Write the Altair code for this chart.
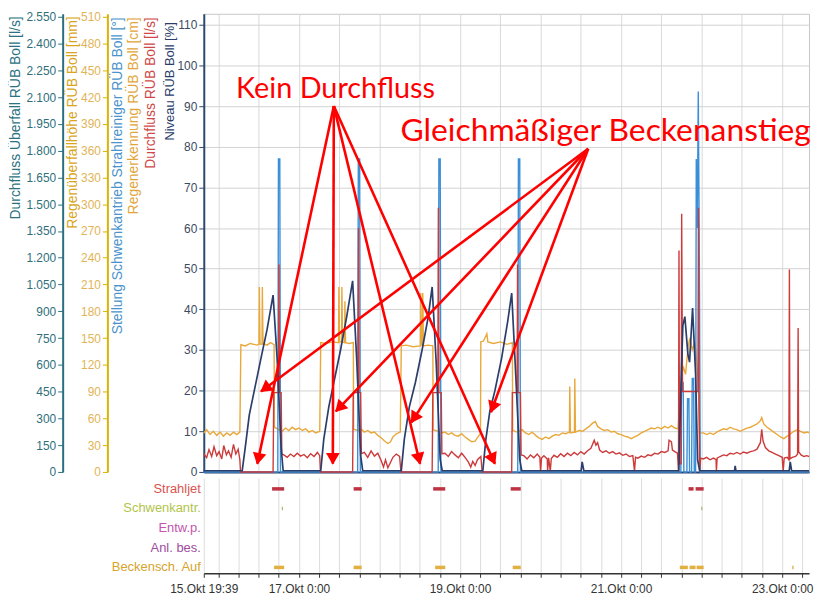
import math
import altair as alt
import pandas as pd

BASE = pd.Timestamp("2023-10-17 00:00")
START_H = -28.35   # 15.Okt 19:39
END_H = 152.0      # 23.Okt 08:00
VMAX = 112.7

# ---- series: (hours relative to 17.Okt 0:00, value in %) ----
niveau = [(-28.35,0.3),(-16.9,0.3),(-16.0,6),(-14.8,14),(-13.3,20),(-11.3,28),(-9.5,35),(-7.7,43.5),(-6.5,28),(-5.3,6),(-4.7,0.3),
          (6.5,0.3),(7.4,8),(8.9,16),(10.4,22),(12.4,30),(14.2,38),(16.0,47),(17.2,28),(18.4,4),(19.0,0.3),
          (30.5,0.3),(31.4,8),(32.9,16),(34.7,22),(36.7,30),(38.5,38),(39.7,45.5),(40.9,27),(42.1,3),(42.7,0.3),
          (54.8,0.3),(55.7,8),(56.9,15),(58.4,20),(60.4,28),(62.2,37),(63.4,44),(64.6,24),(65.8,3),(66.4,0.3),
          (84.1,0.3),(84.4,2.5),(84.9,0.3),
          (113.2,0.3),(113.8,20),(114.4,36),(115.0,38.2),(115.9,29),(116.4,27),(117.3,40.3),(118.2,24),(118.8,3),(119.4,0.3),
          (129.8,0.3),(130.0,1.5),(130.2,0.3),
          (146.1,0.3),(146.4,2.5),(146.8,0.3),(152.0,0.3)]

stellung = [(-28.35,0),(-6.3,0),(-6.1,77),(-5.7,77),(-5.5,0),(17.5,0),(17.7,77),(18.1,77),(18.3,0),
            (41.5,0),(41.7,77),(42.1,77),(42.3,0),(65.2,0),(65.4,77),(65.8,77),(66.0,0),
            (113.8,0),(114.0,22),(114.5,22),(114.7,0),(115.6,0),(115.8,18),(116.2,18),(116.4,0),
            (117.0,0),(117.2,23),(117.6,23),(117.8,0),(118.2,0),(118.4,77),(118.7,60),(119.0,93.6),
            (119.3,55),(119.6,0),(152.0,0)]

durchfluss = [(-28.35,4.5),(-27.5,3.5),(-26.8,5.5),(-26.0,3.8),(-25.3,6.2),(-24.5,4.0),(-23.8,5.0),(-23.0,3.2),
              (-22.4,6.5),(-21.6,4.2),(-21.0,5.2),(-20.2,3.6),(-19.5,6.8),(-18.8,4.4),(-18.1,5.6),(-17.6,3.0),(-17.4,0),
              (-7.7,0),(-7.5,19.5),(-6.1,19.5),(-5.95,51),(-5.8,19.5),(-5.3,19.5),(-5.1,4.4),
              (-4.5,4.2),(-3.5,3.6),(-2.5,4.4),(-1.5,3.8),(-0.5,4.6),(0.5,3.9),(1.5,4.3),(2.5,3.5),(3.5,4.5),
              (4.5,3.8),(5.5,4.8),(6.2,4.0),(6.4,0),
              (16.0,0),(16.2,19.5),(17.6,19.5),(17.75,60),(17.9,19.5),(18.4,19.5),(18.6,4.5),
              (19.5,4.8),(20.5,3.6),(21.5,5.2),(22.5,3.9),(23.5,4.6),(24.5,2.8),(25.2,1.2),(25.8,3.0),
              (26.5,1.0),(27.2,2.2),(28.0,3.6),(29.0,4.4),(30.0,3.8),(30.4,0),
              (39.7,0),(39.9,19.5),(41.4,19.5),(41.55,65),(41.7,19.5),(42.4,19.5),(42.6,4.5),
              (43.5,4.6),(44.5,3.8),(45.5,5.0),(46.5,4.2),(47.5,3.5),(48.5,4.6),(49.5,3.6),(50.5,2.4),
              (51.2,1.2),(51.8,2.6),(52.5,1.6),(53.2,3.0),(54.2,3.8),(54.6,0),
              (63.4,0),(63.6,19.5),(65.0,19.5),(65.15,51),(65.3,19.5),(66.0,19.5),(66.2,4.2),
              (67,4.0),(68,3.2),(69,4.2),(70,3.5),(71,4.4),(71.8,3.6),(72,0.2),(72.3,3.4),(73,4.0),(74,3.2),
              (74.1,0.2),(74.4,3.5),(74.9,0.2),(75.2,3.3),(76,4.1),(77,3.6),(78,4.5),(79,3.8),(80,4.6),(81,4.0),
              (82,4.8),(83,4.2),(84,5.0),(85,4.4),(86,5.2),(87,5.8),(88,7.8),(88.5,6.6),(89,7.2),(89.6,5.4),
              (90.5,4.8),(91.5,5.2),(92.5,4.6),(93.5,5.0),(94.5,4.4),(95.5,4.7),(96.5,4.1),(97.5,4.4),(98.5,3.8),
              (99.5,4.0),(100,0.2),(100.3,3.6),(101,3.4),(102,3.9),(103,3.6),(104,4.2),(105,4.0),(106,4.6),
              (107,4.4),(108,5.0),(109,4.8),(110,5.2),(110.3,7.8),(111,7.4),(111.3,5.4),(112,5.0),(112.8,4.6),
              (113.1,0.2),(113.25,54.5),(113.4,2),(113.9,2),(114.05,63.5),(114.3,19.8),(118.9,19.8),(119.05,65),
              (119.2,19.8),(119.4,0.2),(119.7,3.4),
              (120.5,3.2),(121.5,3.6),(122.5,3.0),(123.5,3.4),(124.3,3.0),(124.4,0.2),(124.6,3.4),(125.5,3.8),
              (126.5,4.2),(127.5,4.0),(128.5,4.6),(129.5,4.4),(130.5,4.8),(131.5,4.4),(132.5,4.9),(133.5,4.6),
              (134.5,5.0),(135.5,5.2),(136.5,5.6),(137.5,7.2),(137.9,10.5),(138.3,7.6),(139,6.0),(140,5.2),
              (141,4.8),(142,4.4),(143,4.0),(144,3.6),(144.3,0.2),(144.6,3.4),(145.5,3.6),(146.0,3.0),
              (146.15,49.8),(146.3,3.2),(147,3.6),(148,3.8),(148.6,4.4),(148.75,35.4),(148.9,5.0),(149.6,4.2),
              (150.5,3.8),(151.3,4.0),(152.0,3.8)]

regen = [(-28.35,9.6),(-27.5,10.4),(-26.5,9.2),(-25.5,10.0),(-24.5,9.0),(-23.5,9.8),(-22.5,8.8),(-21.5,9.6),
         (-20.5,9.0),(-19.5,9.8),(-18.5,9.2),(-17.6,9.8),(-17.3,31.3),
         (-16.0,31.0),(-14.5,31.6),(-12.5,31.2),(-11.9,31.4),(-11.8,45.5),(-11.6,31.5),(-11.0,31.4),(-10.9,45.5),
         (-10.7,31.6),(-9.5,31.2),(-8.5,31.8),(-7.4,31.3),(-7.3,11),
         (-6,10.4),(-5,10.0),(-4,10.8),(-3,10.2),(-2,11.0),(-1,10.4),(0,10.8),(1,10.2),(2,10.6),(3,9.8),
         (4,10.2),(5,9.6),(6.2,10.0),(6.5,31.8),
         (8,31.6),(10,32.0),(11.8,31.8),(11.9,45.5),(12.1,32),(12.7,32),(12.8,45.5),(13.0,32),(13.6,31.8),
         (13.7,42),(13.9,31.8),(15,31.6),(16.2,31.8),(16.3,10.5),
         (17.5,10.2),(18.5,10.6),(19.5,9.8),(20.5,10.2),(21.5,9.6),(22.5,9.8),(23.5,9.0),(24.5,8.4),(25.5,7.6),
         (26.5,7.0),(27.3,7.4),(28,8.6),(29,9.4),(30.2,9.8),(30.5,31),
         (32,31.2),(34,30.8),(36.2,31.0),(36.3,44),(36.5,31.2),(36.8,31.2),(36.9,44),(37.1,31),(38.5,31.2),
         (39.9,31),(40.0,10.4),
         (41.5,10.0),(42.5,9.6),(43.5,9.8),(44.5,9.2),(45.5,9.6),(46.5,9.0),(47.5,8.8),(48.5,9.4),(49.5,8.6),
         (50.5,8.0),(51.5,7.4),(52.5,7.6),(53.5,8.8),(54.1,9.4),(54.2,32),
         (55,32.2),(56,34),(56.3,32),(58,31.6),(60,32),(62,31.4),(63.6,31.8),(63.7,10.2),
         (65,9.8),(66.5,10.4),(67.5,9.6),(68.5,9.2),(69.5,9.8),(70.5,9.0),(71.5,8.4),(72.5,8.0),(73.5,8.6),
         (74.5,8.2),(75.5,8.8),(76.5,9.2),(77.5,9.0),(78.5,9.6),(79.5,9.4),(80.6,9.8),(80.7,21),(80.9,9.6),
         (82.1,9.8),(82.2,23),(82.4,9.8),(83.5,10.2),(84.5,10.0),(85.5,10.6),(86.5,11.2),(87.5,12.0),(88.3,12.4),
         (89,11.2),(90,10.6),(91,10.2),(92,10.4),(93,9.8),(94,10.0),(95,9.4),(96,9.2),(97,8.8),(98,8.6),
         (99,8.2),(100,8.6),(101,9.0),(102,9.6),(103,10.0),(104,10.4),(105,10.8),(106,10.6),(107,11.0),
         (108,10.6),(109,11.2),(110,10.8),(111,11.4),(112,10.8),(113,10.6),
         (113.6,20),(114.5,26),(115.2,24),(116,31),(116.5,33),(117.2,30),(118.0,32),(118.6,26),(119,22),(119.4,9.6),
         (120.5,9.6),(121.5,9.2),(122.5,9.6),(123.5,9.2),(124.5,9.8),(125.5,10.2),(126.5,10.6),(127.5,10.4),
         (128.5,11.0),(129.5,10.6),(130.5,10.4),(131.5,10.0),(132.5,10.4),(133.5,10.8),(134.5,11.0),(135.5,11.4),
         (136.5,11.8),(137.5,12.6),(137.9,13.4),(138.5,11.8),(139.5,11.0),(140.5,10.4),(141.5,9.8),(142.5,9.2),
         (143.5,8.6),(144.5,8.2),(145.5,8.8),(146.5,9.4),(147.5,10.0),(148.5,10.4),(149.5,10.0),(150.5,9.6),
         (151.5,9.8),(152.0,9.6)]

# ---- binary events: (category, start hour, end hour) ----
event_cats = ["Strahljet", "Schwenkantr.", "Entw.p.", "Anl. bes.", "Beckensch. Auf"]
event_label_colors = ["#d9534f", "#b2c44a", "#c455ac", "#a04c9c", "#d6a42b"]
event_mark_colors = ["#bf3242", "#9aa85a", "#c455ac", "#a04c9c", "#e2b040"]
events = [("Strahljet",-8.0,-4.4),("Strahljet",16.3,18.7),("Strahljet",40.0,43.6),("Strahljet",63.1,66.1),
          ("Strahljet",116.1,117.6),("Strahljet",118.2,120.6),
          ("Schwenkantr.",-5.1,-4.8),("Schwenkantr.",119.9,120.2),
          ("Beckensch. Auf",-7.4,-4.4),("Beckensch. Auf",16.3,18.7),("Beckensch. Auf",40.6,43.6),
          ("Beckensch. Auf",63.7,66.1),("Beckensch. Auf",113.5,115.9),("Beckensch. Auf",116.4,118.2),
          ("Beckensch. Auf",118.5,120.6),("Beckensch. Auf",147.0,147.4)]

# ---- annotations: text, hour, %, font size ----
ann_texts = [("Kein Durchfluss", 10.9, 94.1, 29), ("Gleichmäßiger Beckenanstieg", 91.4, 83.9, 32)]
kein_src = (10.4, 90.0)
kein_tips = [(-12.4, 2.0), (10.1, 2.0), (36.1, 2.0), (58.4, 2.0)]
gleich_src = (86.2, 79.5)
gleich_tips = [(-11.3, 19.8), (11.0, 14.9), (33.5, 12.2), (57.2, 14.7)]

# ---------------------------------------------------------------
W, H_MAIN, H_EV = 609, 461, 96
PXH = W / (END_H - START_H)
PXV = H_MAIN / VMAX


def t(h):
    return BASE + pd.to_timedelta(h, unit="h")


def series_df(pairs):
    return pd.DataFrame({"t": [t(h) for h, _ in pairs], "v": [v for _, v in pairs]})


def dt(d, h, m=0):
    return alt.DateTime(year=2023, month=10, date=d, hours=h, minutes=m)


x_domain = [dt(15, 19, 39), dt(23, 8)]
grid_vals = [dt(d, h) for d in range(16, 24) for h in (0, 6, 12, 18) if (d, h) <= (23, 6)]

FONT = "Liberation Sans"
NAVY = "#2b3e6b"

x_main = alt.X("t:T", title=None, scale=alt.Scale(domain=x_domain),
               axis=alt.Axis(values=grid_vals, labels=False, ticks=False, grid=True, title=None,
                             minExtent=0, tickSize=0, labelPadding=0,
                             gridColor="#d9d9d9", domainColor=NAVY, domainWidth=2))


def yscale():
    return alt.Scale(domain=[0, VMAX], nice=False, zero=False)


def title_axis(title, color, tx):
    return alt.Axis(orient="left", title=title, titleColor=color, titleX=tx, titleY=3,
                    titleAngle=270, titleAlign="right", titleBaseline="middle",
                    titleFontSize=14, labels=False, ticks=False, domain=False, grid=False)


axis_df = pd.DataFrame({"t": [t(START_H)], "v": [0]})

teal_l = alt.Chart(axis_df).mark_point(opacity=0).encode(
    x=x_main,
    y=alt.Y("v:Q", scale=alt.Scale(domain=[0, 2566.7], nice=False),
            axis=alt.Axis(orient="left", offset=142, values=list(range(0, 2551, 150)),
                          labelExpr="replace(format(datum.value, ','), ',', '.')",
                          domainColor="#2a6f80", domainWidth=2, tickColor="#2a6f80", labelColor="#2f6f7c",
                          labelFontSize=12, grid=False, title="Durchfluss Überfall RÜB Boll [l/s]",
                          titleColor="#2a7282", titleX=-47, titleY=2, titleAngle=270, titleAlign="right",
                          titleBaseline="middle", titleFontSize=14)))

yellow_l = alt.Chart(axis_df).mark_point(opacity=0).encode(
    x=x_main,
    y=alt.Y("v:Q", scale=alt.Scale(domain=[0, 513.3], nice=False),
            axis=alt.Axis(orient="left", offset=97, values=list(range(0, 511, 30)),
                          domainColor="#d9b400", domainWidth=2, tickColor="#d9b400", labelColor="#e2b457",
                          labelFontSize=12, grid=False, title="Regenüberfallhöhe RÜB Boll [mm]",
                          titleColor="#d8a520", titleX=-35, titleY=2, titleAngle=270, titleAlign="right",
                          titleBaseline="middle", titleFontSize=14)))

orange_l = alt.Chart(series_df(regen)).mark_line(color="#e9a83a", strokeWidth=1.4).encode(
    x=x_main, y=alt.Y("v:Q", scale=yscale(),
                      axis=title_axis("Regenerkennung RÜB Boll [cm]", "#e2a53a", -71)))

blue_l = alt.Chart(series_df(stellung)).mark_line(color="#3b8fd6", strokeWidth=1.4).encode(
    x=x_main, y=alt.Y("v:Q", scale=yscale(),
                      axis=title_axis("Stellung Schwenkantrieb Strahlreiniger RÜB Boll [°]", "#4a93cc", -87)))

red_l = alt.Chart(series_df(durchfluss)).mark_line(color="#cc3a3a", strokeWidth=1.4).encode(
    x=x_main, y=alt.Y("v:Q", scale=yscale(),
                      axis=title_axis("Durchfluss RÜB Boll [l/s]", "#d04848", -54)))

navy_l = alt.Chart(series_df(niveau)).mark_line(color=NAVY, strokeWidth=1.7).encode(
    x=x_main,
    y=alt.Y("v:Q", scale=yscale(),
            axis=alt.Axis(orient="left", values=list(range(0, 111, 10)), grid=True, gridColor="#d2d2d2",
                          domainColor="#2d4a6e", domainWidth=2, tickColor="#2d4a6e", labelColor="#3c4a62",
                          labelFontSize=12, title="Niveau RÜB Boll [%]", titleColor=NAVY, titleX=-34,
                          titleY=8, titleAngle=270, titleAlign="right", titleBaseline="middle",
                          titleFontSize=13)))

# arrows
rows, heads = [], []
for src, tips in ((kein_src, kein_tips), (gleich_src, gleich_tips)):
    for th, tv in tips:
        rows.append({"t1": t(src[0]), "v1": src[1], "t2": t(th), "v2": tv})
        dx = (th - src[0]) * PXH
        dy = -(tv - src[1]) * PXV
        L = math.hypot(dx, dy)
        ang = math.degrees(math.atan2(dx, -dy)) % 360
        back = 7.0
        ch = th - back * dx / L / PXH
        cv = tv + back * dy / L / PXV
        heads.append({"t": t(ch), "v": cv, "a": ang})
arrow_df = pd.DataFrame(rows)
head_df = pd.DataFrame(heads)

arrow_l = alt.Chart(arrow_df).mark_rule(color="#ff0000", strokeWidth=2.6).encode(
    x=alt.X("t1:T", title=None, scale=alt.Scale(domain=x_domain)),
    x2="t2:T",
    y=alt.Y("v1:Q", scale=yscale(), axis=None), y2="v2:Q")

head_l = alt.Chart(head_df).mark_point(shape="triangle", filled=True, color="#ff0000", size=190, opacity=1).encode(
    x=alt.X("t:T", title=None, scale=alt.Scale(domain=x_domain)),
    y=alt.Y("v:Q", scale=yscale(), axis=None),
    angle=alt.Angle("a:Q", scale=None))

text_df = pd.DataFrame({"txt": [a[0] for a in ann_texts], "t": [t(a[1]) for a in ann_texts],
                        "v": [a[2] for a in ann_texts], "fs": [a[3] for a in ann_texts]})
text_l = alt.Chart(text_df).mark_text(color="#ff0000", font="Lato", baseline="middle").encode(
    x=alt.X("t:T", title=None, scale=alt.Scale(domain=x_domain)),
    y=alt.Y("v:Q", scale=yscale(), axis=None),
    size=alt.Size("fs:Q", scale=None),
    text="txt:N")

main = alt.layer(teal_l, yellow_l, orange_l, blue_l, red_l, navy_l, arrow_l, head_l, text_l).resolve_scale(
    y="independent").properties(width=W, height=H_MAIN, view=alt.ViewBackground(stroke="#c8c8c8"))

# ---- event panel ----
ev_df = pd.DataFrame({"cat": [c for c, _, _ in events], "t1": [t(a) for _, a, _ in events],
                      "t2": [t(b) for _, _, b in events]})
lab_df = pd.DataFrame({"cat": event_cats})
ev_y = alt.Y("cat:N", scale=alt.Scale(type="point", domain=event_cats, padding=0.43, align=0.65), axis=None)
label_expr = ("minutes(datum.value) == 39 || (hours(datum.value) == 0 && date(datum.value) % 2 == 1) "
              "? timeFormat(datum.value, '%d.Okt %-H:%M') : ''")
x_ev = alt.X("t1:T", title=None, scale=alt.Scale(domain=x_domain),
             axis=alt.Axis(values=[dt(15, 19, 39)] + grid_vals, labelExpr=label_expr, labelOverlap=False,
                           labelFlush=False, grid=True, gridColor="#dcdcdc", domainColor="#333333",
                           domainWidth=1.5, tickColor="#333333", tickSize=4, labelColor="#333333",
                           labelFontSize=12, labelPadding=6, title=None))

ev_rules = alt.Chart(ev_df).mark_rule(strokeWidth=3.5).encode(
    x=x_ev, x2="t2:T", y=ev_y,
    color=alt.Color("cat:N", scale=alt.Scale(domain=event_cats, range=event_mark_colors), legend=None))

ev_labels = alt.Chart(lab_df).mark_text(align="right", baseline="middle", font=FONT, fontSize=13).encode(
    x=alt.value(-3), y=ev_y, text="cat:N",
    color=alt.Color("cat:N", scale=alt.Scale(domain=event_cats, range=event_label_colors), legend=None))

ev_panel = alt.layer(ev_rules, ev_labels).resolve_scale(color="independent").properties(
    width=W, height=H_EV)

chart = alt.vconcat(main, ev_panel, spacing=6, bounds="flush").properties(
    padding={"left": 0, "top": 0, "right": 0, "bottom": 0}
).configure_view(stroke="transparent").configure_axis(
    labelFont=FONT, titleFont=FONT, titleFontWeight="normal")

chart.save("out.html", embed_options={"renderer": "svg", "actions": False})
